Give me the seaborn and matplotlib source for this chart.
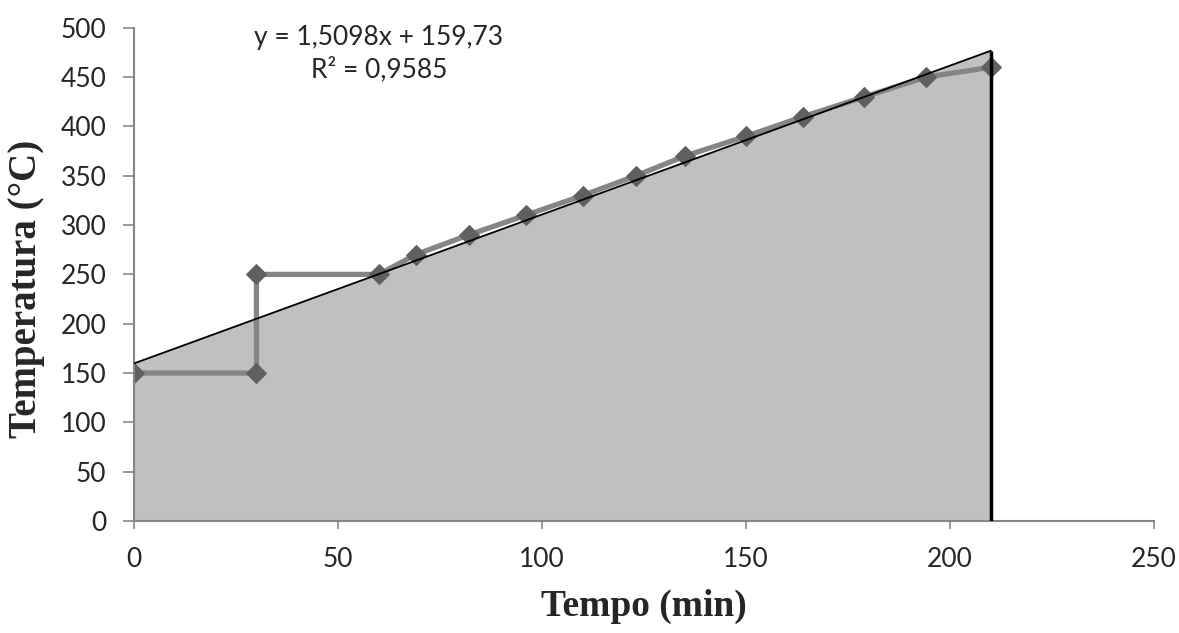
import numpy as np
import pandas as pd
import matplotlib
matplotlib.use('Agg')
import matplotlib.pyplot as plt
import seaborn as sns

# Dados
tempo = [0, 30, 30, 60, 69, 82, 96, 110, 123, 135, 150, 164, 179, 194, 210]
temperatura = [150, 150, 250, 250, 270, 290, 310, 330, 350, 370, 390, 410, 430, 450, 460]

# Linha de tendência (Excel)
slope = 1.5098
intercept = 159.73
r2 = 0.9585

x_ticks = [0, 50, 100, 150, 200, 250]
y_ticks = [0, 50, 100, 150, 200, 250, 300, 350, 400, 450, 500]

data = pd.DataFrame({"Tempo": tempo, "Temperatura": temperatura})

sns.set_style("white")
plt.rcParams['font.family'] = ['Lato', 'DejaVu Sans']

fig = plt.figure(figsize=(11.79, 6.33), dpi=100)
ax = fig.add_axes([0.1137, 0.1770, 0.8651, 0.7790])

# área sob a linha de tendência
x_fit = np.array([min(tempo), max(tempo)])
y_fit = slope * x_fit + intercept
ax.fill_between(x_fit, 0, y_fit, color='#c0c0c0', zorder=1)
ax.plot(x_fit, y_fit, color='black', lw=1.3, zorder=3)
ax.vlines(max(tempo), 0, y_fit[-1], color='black', lw=2.5, zorder=3)

# série de temperatura
sns.lineplot(data=data, x="Tempo", y="Temperatura", sort=False, estimator=None,
             ax=ax, color='#858585', lw=3.8, marker='D', markersize=10,
             markerfacecolor='#606060', markeredgecolor='#606060', zorder=2)

ax.set_xlim(0, 250)
ax.set_ylim(0, 500)
ax.set_xticks(x_ticks)
ax.set_yticks(y_ticks)
ax.tick_params(axis='both', labelsize=19, width=1.2, color='#868686',
               direction='out', bottom=True, left=True)
ax.tick_params(axis='x', length=6, pad=13)
ax.tick_params(axis='y', length=8, pad=12)

for side in ['top', 'right']:
    ax.spines[side].set_visible(False)
for side in ['left', 'bottom']:
    ax.spines[side].set_color('#868686')
    ax.spines[side].set_linewidth(1.5)

ax.set_xlabel("Tempo (min)", family='Liberation Serif', fontweight='bold',
              fontsize=27, va='top')
ax.set_ylabel("Temperatura (°C)", family='Liberation Serif', fontweight='bold',
              fontsize=28)
ax.xaxis.set_label_coords(0.5, -0.138)
ax.yaxis.set_label_coords(-0.087, 0.47)

eq_text = "y = {}x + {}\nR² = {}".format(str(slope).replace('.', ','),
                                         str(intercept).replace('.', ','),
                                         str(r2).replace('.', ','))
ax.text(60, 474, eq_text, fontsize=19, ha='center', va='center', linespacing=1.35)

fig.savefig('out.png', dpi=100)
